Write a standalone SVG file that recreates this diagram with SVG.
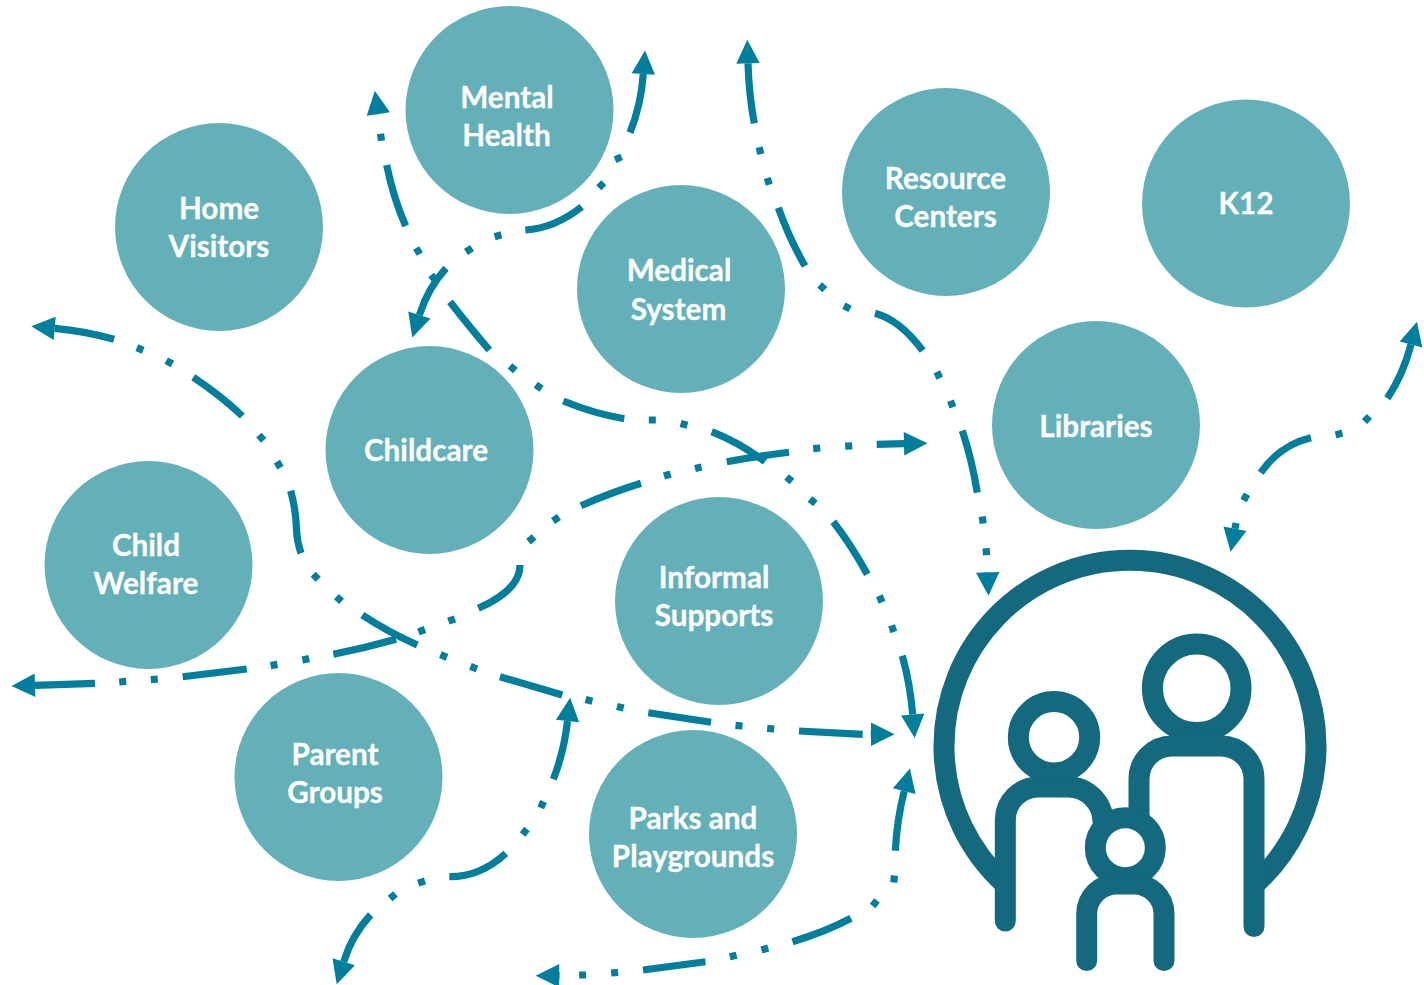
<svg xmlns="http://www.w3.org/2000/svg" width="1424" height="985" viewBox="0 0 1424 985">
<style>
.n{fill:#64b0b9}
.t{font-family:"Lato","Carlito","Liberation Sans",sans-serif;font-weight:700;font-size:29.7px;fill:#fff;stroke:#fff;stroke-width:.3;text-anchor:middle}
.c{fill:none;stroke:#007e9c;stroke-width:7.2;marker-start:url(#h);marker-end:url(#h)}
.i{fill:none;stroke:#14697e;stroke-width:21;stroke-linecap:round}
</style>
<defs>
<marker id="h" markerUnits="userSpaceOnUse" markerWidth="24" markerHeight="24" refX="0" refY="12" orient="auto-start-reverse" overflow="visible">
<path d="M0,0.3L23.5,12L0,23.7Z" fill="#007e9c"/>
</marker>
</defs>
<rect width="1424" height="985" fill="#fff"/>
<g id="node-mental-health"><circle class="n" cx="509.5" cy="110" r="104"/><text class="t" x="507" y="108">Mental</text><text class="t" x="506.5" y="146">Health</text></g>
<g id="node-home-visitors"><circle class="n" cx="219" cy="227" r="104"/><text class="t" x="219" y="219">Home</text><text class="t" x="219" y="257">Visitors</text></g>
<g id="node-medical-system"><circle class="n" cx="681" cy="289" r="104"/><text class="t" x="679" y="281">Medical</text><text class="t" x="678.5" y="320">System</text></g>
<g id="node-resource-centers"><circle class="n" cx="946" cy="192" r="104"/><text class="t" x="945.5" y="189">Resource</text><text class="t" x="945.5" y="227">Centers</text></g>
<g id="node-k12"><circle class="n" cx="1246" cy="203.5" r="104"/><text class="t" x="1246" y="214">K12</text></g>
<g id="node-libraries"><circle class="n" cx="1096" cy="425" r="104"/><text class="t" x="1096" y="437">Libraries</text></g>
<g id="node-childcare"><circle class="n" cx="429.5" cy="450" r="104"/><text class="t" x="426" y="461">Childcare</text></g>
<g id="node-child-welfare"><circle class="n" cx="148.5" cy="565" r="104"/><text class="t" x="146" y="556">Child</text><text class="t" x="146" y="594">Welfare</text></g>
<g id="node-informal-supports"><circle class="n" cx="719" cy="601" r="104"/><text class="t" x="714" y="588">Informal</text><text class="t" x="714" y="626">Supports</text></g>
<g id="node-parent-groups"><circle class="n" cx="338.5" cy="777" r="104"/><text class="t" x="335" y="765">Parent</text><text class="t" x="335" y="803">Groups</text></g>
<g id="node-parks"><circle class="n" cx="693" cy="834" r="104"/><text class="t" x="693" y="829">Parks and</text><text class="t" x="693" y="867">Playgrounds</text></g>
<g id="node-family">
<path class="i" style="stroke-linecap:butt" d="M1005,884A186,186 0 1 1 1255,884"/>
<circle class="i" cx="1196.7" cy="688.3" r="44.3"/>
<path class="i" d="M1139,822V779A33,33 0 0 1 1172,746H1221A33,33 0 0 1 1254,779V926.5"/>
<circle class="i" cx="1054" cy="737.3" r="35.7"/>
<path class="i" d="M1005.3,921V820A33,33 0 0 1 1038.3,787H1068A35,35 0 0 1 1103,822"/>
<circle cx="1125.3" cy="847.7" r="30" fill="#fff" stroke="#14697e" stroke-width="21"/>
<path class="i" d="M1086.7,960.5V914A30,30 0 0 1 1116.7,884H1134A30,30 0 0 1 1164,914V960.5"/>
</g>
<g id="connectors">
<path class="c" d="M643.3,74Q641,105 630,132.7M616.9,155.1L619.7,161.5M598.8,187.8L603.8,182.8M581.7,206.7Q555,228 525.3,230M494.6,236.7L501.4,234.7M466,252L472,248M446,268.3Q428,288 419.4,315"/>
<path class="c" d="M378.3,114l.03,.2M380.5,133.8L381.5,140.8M386.7,165Q393,197 405.7,226M416.2,248L419.8,254M431.2,274.9L435.4,280.5M450,301.7Q468,325 489.3,350M510,366L515.4,370.6M535.8,384.7L541.6,388.7M563.3,401Q595,414 624.3,418.7M648.8,420L655.8,420M680.6,423.4L687.4,425.2M711.7,431.7Q740,443 765,461.7M786.6,477L792,481.6M810,499L815.4,503.6M833.3,521.7Q852,546 867.3,574.3M879.3,595.8L882.1,602.2M891.6,625.4L893.8,632M902.3,655.7Q910,683 912.7,714.5"/>
<path class="c" d="M748,63.3Q749,95 754.3,123.3M759.2,147.3L760.8,154.1M767.3,178L769.3,184.6M778.3,207.7Q790,240 805,266M819.7,285L824.9,289.6M843.9,305.7L850.1,308.9M875,313.3Q900,320 922.7,350.7M936.8,371.9L939.8,378.1M950.5,400.7L952.9,407.3M962.3,430.7Q972,460 977.3,492.7M982.2,516.5L983.2,523.5M986.1,548.2L986.5,555.2M987.7,572l.01,.3"/>
<path class="c" d="M35,685.3L95,683.3M119.2,682L126.2,681.4M150.8,679.6L157.8,679M182.7,676.7L246.7,669M270.6,665.6L277.4,664.4M302.3,660L309.1,658.6M333.3,654.3Q365,648 396,639.3M418.4,631.9L425,629.5M448.4,621.2L455,618.8M478.3,608.3Q520,590 520,565M528.5,541.6L534.1,537M553,521L559,517M581,505.7Q610,493 641,483.3M664,476L670.6,474M695,468.5L701.6,466.9M726.7,461.7Q758,456 789,452.3M813.2,448.6L820.2,448M845.2,446.2L852.2,445.8M876.7,444.3L904,443.7"/>
<path class="c" d="M54.7,328.3Q85,331 114,339.3M136.8,347.6L143.2,350.4M166.2,360.6L172.4,364M193.3,377.3Q220,395 242.3,416M259,435L263.6,440.4M276.9,461.7L280.5,467.7M290.7,490.7Q296,510 296.5,530Q297,542 301,553.3M313.2,574.2L318.2,579.2M336.4,596.6L341.6,601.4M362.3,615Q388,632 417.3,645M440.4,654.7L447,657.3M470.4,666.4L477,669M500,676.7L562.3,695M585.6,699.4L592.4,701.2M616.9,706.5L623.7,708.1M648.3,712.7L711,722.3M735.5,725.4L742.5,726M767.2,728.4L774.2,729M799,731L862.7,734.3M870.7,734.3l.3,0"/>
<path class="c" d="M1411,344.5Q1403,375 1387.3,398.3M1364.5,421.5L1369.5,416.5M1335.6,434.9L1342.4,433.1M1311,437.7Q1280,445 1260.7,472.7M1247,494.2L1243.6,500.4M1236.1,523L1235,528.7"/>
<path class="c" d="M567.5,721Q564,752 553.3,779.3M543.6,801.5L540.8,807.9M527,829L522.6,834.4M505.8,853.3Q480,877 449.3,876.7M425,880.9L418.2,883.1M395.5,894L390.1,898.6M370.6,914.7Q352,935 343.7,961.7"/>
<path class="c" d="M904.2,791.2Q897,820 895.3,850.7M894.5,875.5L893.7,882.5M877,900.6L872.6,906M851,918.3Q825,932 792.5,941.7M768.2,948L761.4,950M736.6,955.2L729.8,956.8M705.5,961.7L643,970M618.1,972.4L611.1,973M586.1,975L579.1,975M559.7,975.7L559.2,975.7"/>
</g>
</svg>
